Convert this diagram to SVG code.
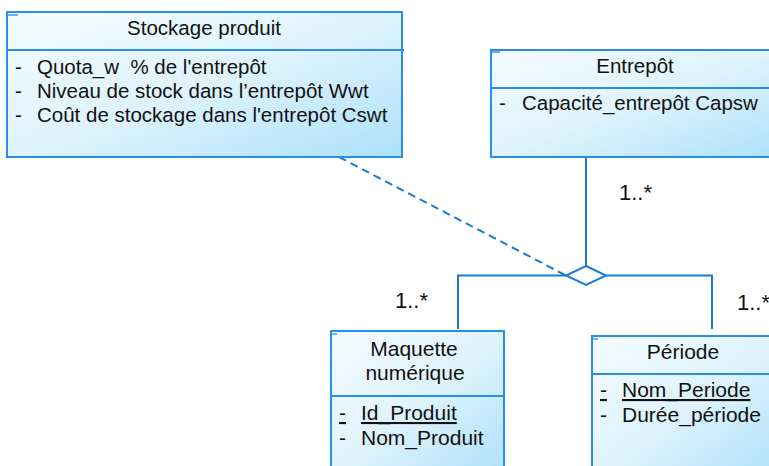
<svg xmlns="http://www.w3.org/2000/svg" width="769" height="466" viewBox="0 0 769 466">
<defs>
<linearGradient id="boxfill" x1="0" y1="0" x2="1" y2="1">
<stop offset="0" stop-color="#f5fcff"/>
<stop offset="0.5" stop-color="#def3fd"/>
<stop offset="1" stop-color="#ade1fb"/>
</linearGradient>
<style>
.box{fill:url(#boxfill);stroke:#2b8ee6;stroke-width:2}
.sep{stroke:#2b8ee6;stroke-width:2;fill:none}
.tick{stroke:#3d9ae8;stroke-width:1.5}
.t{font-family:"Liberation Sans",Arial,sans-serif;font-size:20.5px;fill:#111}
.b{font-size:21px}
.c{text-anchor:middle}
.m{font-family:"Liberation Sans",Arial,sans-serif;font-size:22px;fill:#111}
.con{stroke:#1b7bd3;stroke-width:2;fill:none}
.dash{stroke-dasharray:8 5}
.u{text-decoration:underline}
</style>
</defs>
<g id="connectors">
<line class="con" x1="586" y1="157" x2="586" y2="266"/>
<polyline class="con" points="458,329 458,275.5 566,275.5"/>
<polyline class="con" points="606,275.5 712,275.5 712,329"/>
<polygon class="con" points="586,266 606,275.5 586,285 566,275.5" fill="#fff"/>
<line class="con dash" x1="339" y1="157" x2="566" y2="275.5"/>
</g>
<g id="stockage">
<rect class="box" x="7" y="12" width="395" height="145"/>
<line class="sep" x1="7" y1="50" x2="404" y2="50"/>
<line class="tick" x1="8" y1="15" x2="18" y2="15"/>
<text class="t c" x="204" y="35">Stockage produit</text>
<text class="t" x="15" y="74">-</text><text class="t" x="37" y="74" xml:space="preserve">Quota_w  % de l'entrepôt</text>
<text class="t" x="15" y="98">-</text><text class="t" x="37" y="98">Niveau de stock dans l’entrepôt Wwt</text>
<text class="t" x="15" y="122">-</text><text class="t" x="37" y="122">Coût de stockage dans l'entrepôt Cswt</text>
</g>
<g id="entrepot">
<rect class="box" x="491" y="50" width="290" height="107"/>
<line class="sep" x1="491" y1="88" x2="781" y2="88"/>
<line class="tick" x1="492" y1="52" x2="500" y2="52"/>
<text class="t c" x="635" y="73">Entrepôt</text>
<text class="t" x="499" y="110">-</text><text class="t" x="522" y="110">Capacité_entrepôt Capsw</text>
</g>
<g id="maquette">
<rect class="box" x="331" y="331" width="173" height="145"/>
<line class="sep" x1="331" y1="396" x2="505" y2="396"/>
<line class="tick" x1="332" y1="334" x2="337" y2="334"/>
<text class="t b c" x="414" y="356">Maquette</text>
<text class="t b c" x="415" y="380">numérique</text>
<text class="t b u" x="339" y="420">-</text><text class="t b u" x="361" y="420">Id_Produit</text>
<text class="t b" x="339" y="445">-</text><text class="t b" x="361" y="445">Nom_Produit</text>
</g>
<g id="periode">
<rect class="box" x="592" y="336" width="190" height="140"/>
<line class="sep" x1="592" y1="374" x2="782" y2="374"/>
<line class="tick" x1="593" y1="339" x2="598" y2="339"/>
<text class="t b c" x="683" y="359">Période</text>
<text class="t b u" x="600" y="397">-</text><text class="t b u" x="622" y="397">Nom_Periode</text>
<text class="t b" x="600" y="422">-</text><text class="t b" x="622" y="422">Durée_période</text>
</g>
<g id="labels">
<text class="m" x="619" y="200">1..*</text>
<text class="m" x="395" y="308">1..*</text>
<text class="m" x="737" y="310">1..*</text>
</g>
</svg>
